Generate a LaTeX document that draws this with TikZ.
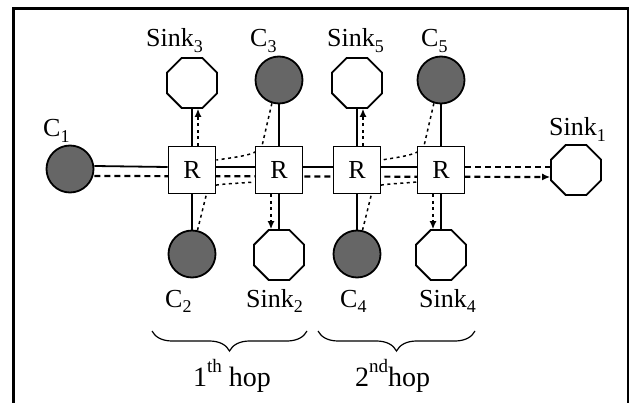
\documentclass[tikz,border=0pt]{standalone}
\usepackage{fontspec}
\setmainfont{Liberation Serif}
\usetikzlibrary{shapes.geometric,decorations.pathreplacing,arrows.meta}
\pgfdeclarelayer{bg}
\pgfsetlayers{bg,main}
\newcommand{\lowsub}[1]{\raisebox{-0.2em}{\fontsize{18}{18}\selectfont #1}}
\newcommand{\highsup}[1]{\raisebox{0.5em}{\fontsize{19}{19}\selectfont #1}}
\begin{document}
\begin{tikzpicture}[x=1pt,y=-1pt,
  font=\fontsize{26}{30}\selectfont,
  router/.style={draw,line width=1.8pt,fill=white,minimum size=47pt,inner sep=0pt},
  cnode/.style={circle,draw,line width=1.8pt,fill=black!60,minimum size=47pt,inner sep=0pt},
  snode/.style={regular polygon,regular polygon sides=8,draw,line width=1.8pt,fill=white,minimum size=54pt,inner sep=0pt},
  lab/.style={inner sep=0pt,anchor=base west},
  hoplab/.style={inner sep=0pt,anchor=base west,font=\fontsize{28}{32}\selectfont},
  link/.style={line width=1.8pt},
  flow/.style={line width=2.2pt,dash pattern=on 6pt off 4pt},
  dotflow/.style={line width=1.5pt,dash pattern=on 3pt off 3.5pt},
  tip/.style={-{Latex[length=8pt,width=7pt]}},
  hbrace/.style={line width=1.2pt,decorate,decoration={brace,mirror,amplitude=20pt}}
]
\useasboundingbox (0,0) rectangle (634,403);
\clip (0,0) rectangle (634,403);
\draw[line width=2.6pt] (13.5,8.5) rectangle (628,430);

% nodes
\node[router] (R1) at (192,170) {R};
\node[router] (R2) at (279,170) {R};
\node[router] (R3) at (357,170) {R};
\node[router] (R4) at (441,170) {R};
\node[cnode] (C1) at (70,169) {};
\node[snode] (S1) at (576,170) {};
\node[snode] (S3) at (192,83) {};
\node[cnode] (C3) at (279,80) {};
\node[snode] (S5) at (357,83) {};
\node[cnode] (C5) at (441,80) {};
\node[cnode] (C2) at (192,254) {};
\node[snode] (S2) at (279,255) {};
\node[cnode] (C4) at (357,254) {};
\node[snode] (S4) at (441,255) {};

% labels
\node[lab] (L3) at (146,47) {Sink\lowsub{3}};
\node[lab] (LC3) at (250,47) {C\lowsub{3}};
\node[lab] (L5) at (327,47) {Sink\lowsub{5}};
\node[lab] (LC5) at (421,47) {C\lowsub{5}};
\node[lab] (LC1) at (43,137) {C\lowsub{1}};
\node[lab] (L1) at (549,136) {Sink\lowsub{1}};
\node[lab] (LC2) at (165,307) {C\lowsub{2}};
\node[lab] (L2) at (246,307) {Sink\lowsub{2}};
\node[lab] (LC4) at (340,307) {C\lowsub{4}};
\node[lab] (L4) at (419,307) {Sink\lowsub{4}};
\node[hoplab] (H1) at (193,386) {1\highsup{th} hop};
\node[hoplab] (H2) at (355,386) {2\highsup{nd}hop};

\begin{pgfonlayer}{bg}
  % main solid chain
  \draw[link] ([yshift=3pt]C1.east) -- ([yshift=3pt]R1.west);
  \draw[link] ([yshift=3pt]R1.east) -- ([yshift=3pt]R2.west);
  \draw[link] ([yshift=3pt]R2.east) -- ([yshift=3pt]R3.west);
  \draw[link] ([yshift=3pt]R3.east) -- ([yshift=3pt]R4.west);
  \draw[flow] ([yshift=3pt]R4.east) -- ([yshift=3pt]S1.west);
  % vertical links
  \draw[link] (R1.north) -- (S3.south);
  \draw[link] (R1.south) -- (C2.north);
  \draw[link] (R2.north) -- (C3.south);
  \draw[link] (R2.south) -- (S2.north);
  \draw[link] (R3.north) -- (S5.south);
  \draw[link] (R3.south) -- (C4.north);
  \draw[link] (R4.north) -- (C5.south);
  \draw[link] (R4.south) -- (S4.north);
  % C1 -> Sink1 flow
  \draw[flow,tip] ([yshift=-7pt]C1.east) -- ([yshift=-7pt]S1.west);
  % dotted flows
  \draw[dotflow] (C3.-107) -- (262,146) .. controls (258,154) and (245,156) .. ([yshift=10pt]R1.east);
  \draw[dotflow] (C2.77) -- (208,188) .. controls (211,184) and (230,184) .. ([yshift=-12pt]R2.west);
  \draw[dotflow] (C5.-107) -- (424,146) .. controls (420,154) and (407,156) .. ([yshift=10pt]R3.east);
  \draw[dotflow] (C4.77) -- (373,188) .. controls (376,184) and (395,184) .. ([yshift=-12pt]R4.west);
\end{pgfonlayer}
\draw[dotflow,tip] ([xshift=6pt]R1.north) -- ([xshift=6pt]S3.south);
\draw[dotflow,tip] ([xshift=-8pt]R2.south) -- ([xshift=-8pt]S2.north);
\draw[dotflow,tip] ([xshift=6pt]R3.north) -- ([xshift=6pt]S5.south);
\draw[dotflow,tip] ([xshift=-8pt]R4.south) -- ([xshift=-8pt]S4.north);

% braces
\draw[hbrace] (152,331) -- (307,331);
\draw[hbrace] (318,331) -- (475,331);
\end{tikzpicture}
\end{document}
